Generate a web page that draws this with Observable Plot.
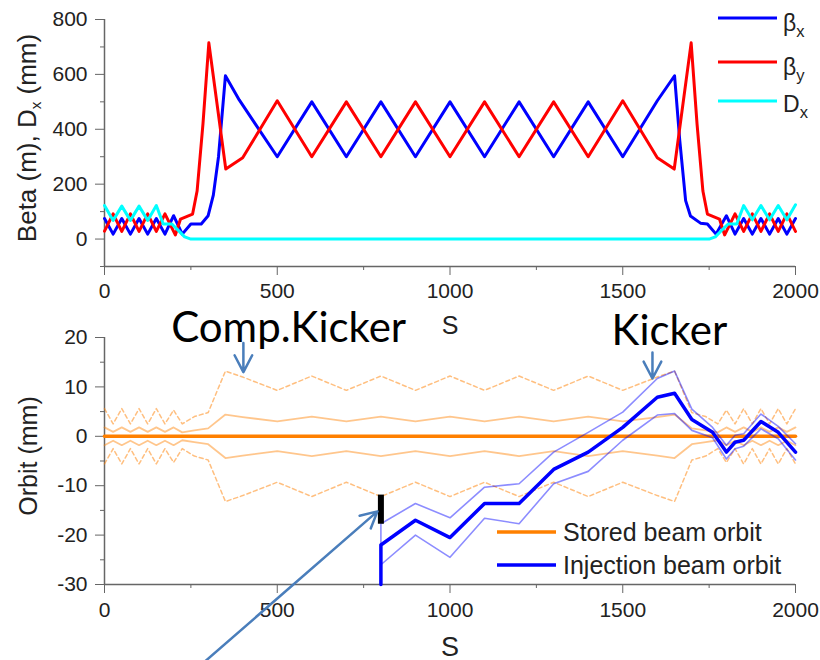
<!DOCTYPE html>
<html><head><meta charset="utf-8">
<script src="https://cdn.jsdelivr.net/npm/d3@7"></script>
<script src="https://cdn.jsdelivr.net/npm/@observablehq/plot@0.6"></script>
<style>
body{margin:0;background:#fff;}
#root{position:relative;width:820px;height:660px;overflow:hidden;background:#fff;}
#root svg{position:absolute;left:0;}
</style></head><body><div id="root"></div>
<script>
// ---------- Top panel: lattice functions ----------
const sBetaX = [0,25,50,75,100,125,150,175,200,225,250,280,300,315,330,350,390,500,600,700,800,900,1000,1100,1200,1300,1400,1500,1600,1650,1665,1682,1696,1725,1745,1770,1800,1825,1850,1875,1900,1925,1950,1975,2000];
const betaX  = [75,18,75,18,75,18,75,18,85,18,55,55,85,160,300,595,507,300,500,300,500,300,500,300,500,300,500,300,504,595,360,140,84,58,55,18,85,18,75,18,75,18,75,18,75];
const sBetaY = [0,25,50,75,100,125,150,175,205,220,255,268,285,302,351,400,500,600,700,800,900,1000,1100,1200,1300,1400,1500,1600,1649,1698,1715,1732,1745,1780,1795,1825,1850,1875,1900,1925,1950,1975,2000];
const betaY  = [29,92,28,92,28,92,28,92,15,73,91,175,420,715,255,296,504,300,500,300,500,300,500,300,500,300,504,296,255,715,420,175,91,73,15,92,28,92,28,92,28,92,28];
const sDx = [0,25,50,75,100,125,150,170,195,215,232,250,1750,1768,1785,1805,1830,1850,1875,1900,1925,1950,1975,2000];
const dispX = [122,68,120,68,120,68,122,55,55,30,8,0,0,8,30,55,55,122,70,122,70,122,70,125];

const topYMajor = [0,200,400,600,800];
const topYMinor = [-100,100,300,500,700];
const xMajor = [0,500,1000,1500,2000];
const xMinor = [250,750,1250,1750];
const topYTitle = "Beta (m), D_x (mm)";
const xTitle = "S";
const topLegend = ["β_x","β_y","D_x"];

// ---------- Bottom panel: orbits ----------
const sEnv = [0,25,50,75,100,125,150,175,200,225,260,300,350,400,500,600,700,800,900,1000,1100,1200,1300,1400,1500,1600,1650,1700,1740,1775,1800,1825,1850,1875,1900,1925,1950,1975,2000];
const storedDashedUpper = [5.6,2.5,5.6,2.5,5.6,2.5,5.6,2.5,5.3,2.5,4.0,4.8,13.2,12.0,9.3,12.2,9.3,12.2,9.3,12.2,9.3,12.2,9.3,12.2,9.3,12.0,13.2,4.8,4.0,2.5,5.3,2.5,5.6,2.5,5.6,2.5,5.6,2.5,5.6];
const storedDashedLower = [-5.6,-2.5,-5.6,-2.5,-5.6,-2.5,-5.6,-2.5,-5.3,-2.5,-4.0,-4.8,-13.2,-12.0,-9.3,-12.2,-9.3,-12.2,-9.3,-12.2,-9.3,-12.2,-9.3,-12.2,-9.3,-12.0,-13.2,-4.8,-4.0,-2.5,-5.3,-2.5,-5.6,-2.5,-5.6,-2.5,-5.6,-2.5,-5.6];
const storedSolidUpper = [1.8,0.9,1.8,0.9,1.8,0.9,1.8,0.9,1.8,0.8,1.2,1.6,4.4,3.9,3.0,4.0,3.0,4.0,3.0,4.0,3.0,4.0,3.0,4.0,3.0,3.9,4.4,1.6,1.2,0.8,1.8,0.9,1.8,0.9,1.8,0.9,1.8,0.9,1.8];
const storedSolidLower = [-1.8,-0.9,-1.8,-0.9,-1.8,-0.9,-1.8,-0.9,-1.8,-0.8,-1.2,-1.6,-4.4,-3.9,-3.0,-4.0,-3.0,-4.0,-3.0,-4.0,-3.0,-4.0,-3.0,-4.0,-3.0,-3.9,-4.4,-1.6,-1.2,-0.8,-1.8,-0.9,-1.8,-0.9,-1.8,-0.9,-1.8,-0.9,-1.8];
const sStored = [0,2000];
const storedOrbit = [0,0];

const sInj = [800,800,900,1000,1100,1200,1300,1400,1500,1600,1650,1700,1760,1800,1825,1850,1900,1950,2000];
const injOrbit = [-30,-22,-17,-20.5,-13.6,-13.6,-6.7,-3.2,1.8,7.9,8.7,3.4,0.8,-3.2,-1.2,-0.8,3.0,0.8,-3.2];
const injUpper = [-30,-17.7,-13.6,-16.5,-10.3,-9.6,-3.2,0.8,4.9,11.7,13.2,5.5,1.8,-1.8,0.2,0.5,4.5,2.0,-1.5];
const injLower = [-30,-26,-20,-24.5,-16.6,-17.7,-9.6,-7.1,-0.8,4.3,4.6,1.2,-0.3,-4.6,-2.5,-2.0,1.5,-0.5,-4.8];

const botYMajor = [-30,-20,-10,0,10,20];
const botYMinor = [-25,-15,-5,5,15];
const botYTitle = "Orbit (mm)";
const botLegend = ["Stored beam orbit","Injection beam orbit"];

// annotations (data coordinates of the bottom panel)
const annoText = ["Comp.Kicker","Kicker"];
const annoTextS = [533,1635];
const annoTextV = [21.8,21.2];
const kickS = [402,1586];
const kickTipV = [13.0,11.7];
const septumS = [800];
const septumV1 = [-11.9];
const septumV2 = [-17.8];
const longArrowS = [292,790];
const longArrowV = [-45.5,-15.2];

// ---------- helpers ----------
const pts = (s, v) => s.map((x, i) => ({s: x, v: v[i]}));
const axisGray = "#666";
const fmt = d => String(d);
const baseStyle = {background: "transparent", overflow: "visible", fontFamily: "'Liberation Sans', Arial, sans-serif", fontSize: "21px", color: "#222"};
const arrowBlue = "#4a7ebb";
const headShape = {
  draw(ctx, l) {
    const w = 19, a = Math.PI / 6.5;
    ctx.moveTo(0, 0); ctx.lineTo(0, -l);
    ctx.moveTo(-w * Math.sin(a), -l + w * Math.cos(a));
    ctx.lineTo(0, -l);
    ctx.lineTo(w * Math.sin(a), -l + w * Math.cos(a));
  }
};

function subscripts(svg) {
  svg.querySelectorAll("text").forEach(t => {
    const s = t.textContent;
    if (!s.includes("_")) return;
    const fs = parseFloat(t.getAttribute("font-size")) || 21;
    const parts = s.split(/_(\w)/);
    t.textContent = "";
    parts.forEach((p, i) => {
      if (!p) return;
      const ts = document.createElementNS("http://www.w3.org/2000/svg", "tspan");
      if (i % 2 === 1) { ts.setAttribute("dy", fs * 0.25); ts.setAttribute("font-size", fs * 0.72); }
      else if (i > 0) { ts.setAttribute("dy", -fs * 0.25); }
      ts.textContent = p;
      t.appendChild(ts);
    });
  });
}

const root = document.getElementById("root");

// ---------- top plot ----------
const topPlot = Plot.plot({
  width: 820, height: 350,
  marginLeft: 104, marginRight: 25, marginTop: 19, marginBottom: 84,
  x: {domain: [0, 2000], label: null},
  y: {domain: [-100, 800], label: null},
  style: baseStyle,
  marks: [
    Plot.axisY({ticks: topYMajor, tickSize: 9, tickPadding: 8, tickFormat: fmt, label: null, stroke: axisGray, fontSize: 21}),
    Plot.axisY({ticks: topYMinor, tickSize: 4, tickFormat: () => "", label: null, stroke: axisGray}),
    Plot.axisX({ticks: xMajor, tickSize: 9, tickPadding: 8, tickFormat: fmt, label: null, stroke: axisGray, fontSize: 21}),
    Plot.axisX({ticks: xMinor, tickSize: 4, tickFormat: () => "", label: null, stroke: axisGray}),
    Plot.ruleX([0], {stroke: axisGray, strokeWidth: 1.5}),
    Plot.ruleY([-100], {stroke: axisGray, strokeWidth: 1.5}),
    Plot.line(pts(sBetaX, betaX), {x: "s", y: "v", stroke: "#0000ff", strokeWidth: 3}),
    Plot.line(pts(sBetaY, betaY), {x: "s", y: "v", stroke: "#ff0000", strokeWidth: 3}),
    Plot.line(pts(sDx, dispX), {x: "s", y: "v", stroke: "#00ffff", strokeWidth: 3}),
    Plot.text([topYTitle], {text: d => d, frameAnchor: "left", textAnchor: "middle", rotate: -90, dx: -77, dy: -5, fontSize: 26, fill: "#222"}),
    Plot.text([xTitle], {text: d => d, frameAnchor: "bottom", dy: 67, fontSize: 25, fill: "#222"})
  ]
});
topPlot.style.top = "0px";
subscripts(topPlot);
root.appendChild(topPlot);

// ---------- bottom plot ----------
const botPlot = Plot.plot({
  width: 820, height: 360,
  marginLeft: 104, marginRight: 25, marginTop: 37, marginBottom: 76,
  x: {domain: [0, 2000], label: null},
  y: {domain: [-30, 20], label: null},
  style: baseStyle,
  marks: [
    Plot.axisY({ticks: botYMajor, tickSize: 9, tickPadding: 8, tickFormat: fmt, label: null, stroke: axisGray, fontSize: 21}),
    Plot.axisY({ticks: botYMinor, tickSize: 4, tickFormat: () => "", label: null, stroke: axisGray}),
    Plot.axisX({ticks: xMajor, tickSize: 9, tickPadding: 9, tickFormat: fmt, label: null, stroke: axisGray, fontSize: 21}),
    Plot.axisX({ticks: xMinor, tickSize: 4, tickFormat: () => "", label: null, stroke: axisGray}),
    Plot.ruleX([0], {stroke: axisGray, strokeWidth: 1.5}),
    Plot.ruleY([-30], {stroke: axisGray, strokeWidth: 1.5}),
    Plot.line(pts(sEnv, storedDashedUpper), {x: "s", y: "v", stroke: "#ff8000", strokeOpacity: 0.5, strokeWidth: 1.5, strokeDasharray: "4,3"}),
    Plot.line(pts(sEnv, storedDashedLower), {x: "s", y: "v", stroke: "#ff8000", strokeOpacity: 0.5, strokeWidth: 1.5, strokeDasharray: "4,3"}),
    Plot.line(pts(sEnv, storedSolidUpper), {x: "s", y: "v", stroke: "#ff8000", strokeOpacity: 0.45, strokeWidth: 1.8}),
    Plot.line(pts(sEnv, storedSolidLower), {x: "s", y: "v", stroke: "#ff8000", strokeOpacity: 0.45, strokeWidth: 1.8}),
    Plot.line(pts(sStored, storedOrbit), {x: "s", y: "v", stroke: "#ff8000", strokeWidth: 3.5}),
    Plot.line(pts(sInj, injUpper), {x: "s", y: "v", stroke: "#0000ff", strokeOpacity: 0.45, strokeWidth: 1.6}),
    Plot.line(pts(sInj, injLower), {x: "s", y: "v", stroke: "#0000ff", strokeOpacity: 0.45, strokeWidth: 1.6}),
    Plot.line(pts(sInj, injOrbit), {x: "s", y: "v", stroke: "#0000ff", strokeWidth: 3.5}),
    Plot.ruleX(septumS.map((s, i) => ({s, a: septumV1[i], b: septumV2[i]})), {x: "s", y1: "a", y2: "b", stroke: "#000", strokeWidth: 6}),
    Plot.vector([{s: kickS[0], v: kickTipV[0]}], {x: "s", y: "v", length: 29, rotate: 180, anchor: "end", shape: headShape, stroke: arrowBlue, strokeWidth: 2.5}),
    Plot.vector([{s: kickS[1], v: kickTipV[1]}], {x: "s", y: "v", length: 26, rotate: 180, anchor: "end", shape: headShape, stroke: arrowBlue, strokeWidth: 2.5}),
    Plot.arrow([{x1: longArrowS[0], y1: longArrowV[0], x2: longArrowS[1], y2: longArrowV[1]}], {x1: "x1", y1: "y1", x2: "x2", y2: "y2", stroke: arrowBlue, strokeWidth: 2.5, headLength: 11, headAngle: 55}),
    Plot.text(annoText.map((t, i) => ({t, s: annoTextS[i], v: annoTextV[i]})), {x: "s", y: "v", text: "t", fontSize: 42, fontFamily: "Lato, sans-serif", fill: "#000"}),
    Plot.text([botYTitle], {text: d => d, frameAnchor: "left", textAnchor: "middle", rotate: -90, dx: -76, dy: -5, fontSize: 25, fill: "#222"}),
    Plot.text([xTitle], {text: d => d, frameAnchor: "bottom", dy: 71, fontSize: 27, fill: "#222"})
  ]
});
botPlot.style.top = "300px";
root.appendChild(botPlot);

// ---------- legends ----------
const leg = d3.select(root).append("svg").attr("width", 820).attr("height", 660)
  .style("top", "0px").style("pointer-events", "none")
  .attr("font-family", "'Liberation Sans', Arial, sans-serif").attr("fill", "#222");
const topCols = ["#0000ff", "#ff0000", "#00ffff"];
const topLineY = [18, 62, 101];
const topBase = [31, 75, 112];
const topFs = [23, 23, 23];
topLegend.forEach((lab, i) => {
  leg.append("line").attr("x1", 718).attr("x2", 777).attr("y1", topLineY[i]).attr("y2", topLineY[i])
    .attr("stroke", topCols[i]).attr("stroke-width", 3);
  leg.append("text").attr("x", 783).attr("y", topBase[i]).attr("font-size", topFs[i]).text(lab);
});
const botCols = ["#ff8000", "#0000ff"];
const botLineY = [532, 565];
const botBase = [541, 574];
botLegend.forEach((lab, i) => {
  leg.append("line").attr("x1", 497).attr("x2", 556).attr("y1", botLineY[i]).attr("y2", botLineY[i])
    .attr("stroke", botCols[i]).attr("stroke-width", 3.5);
  leg.append("text").attr("x", 563).attr("y", botBase[i]).attr("font-size", 25).text(lab);
});
subscripts(leg.node());
</script></body></html>
